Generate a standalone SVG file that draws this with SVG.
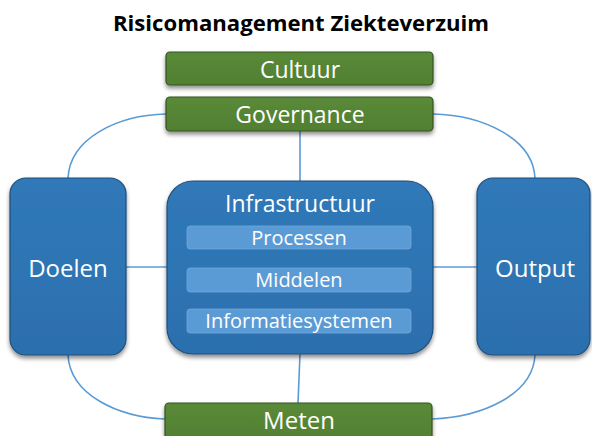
<svg xmlns="http://www.w3.org/2000/svg" width="592" height="436" viewBox="0 0 592 436">
<defs>
<filter id="sh" x="-20%" y="-20%" width="140%" height="150%">
<feDropShadow dx="0" dy="3" stdDeviation="2" flood-color="#000" flood-opacity="0.45"/>
</filter>
<linearGradient id="gb" x1="0" y1="0" x2="0" y2="1">
<stop offset="0" stop-color="#3079b9"/>
<stop offset="1" stop-color="#2c6fae"/>
</linearGradient>
<linearGradient id="gg" x1="0" y1="0" x2="0" y2="1">
<stop offset="0" stop-color="#5a8a38"/>
<stop offset="1" stop-color="#517f32"/>
</linearGradient>
</defs>
<style>
.t{font-family:"Open Sans","Liberation Sans",sans-serif;fill:#fff;text-anchor:middle}
.blue{fill:url(#gb);stroke:#1f4e79;stroke-width:1.2;filter:url(#sh)}
.green{fill:url(#gg);stroke:#35541f;stroke-width:1.2;filter:url(#sh)}
.bar{fill:#5b9bd5;stroke:#6fa8dc;stroke-width:0.8}
.c{fill:none;stroke:#5b9bd5;stroke-width:1.6}
</style>
<text x="301" y="31" font-family="'Open Sans','Liberation Sans',sans-serif" font-weight="bold" font-size="21" text-anchor="middle" fill="#000" textLength="376" lengthAdjust="spacingAndGlyphs">Risicomanagement Ziekteverzuim</text>
<g id="connectors">
<path class="c" d="M166,114 C118,115 70,138 68,178"/>
<path class="c" d="M433,114 C482,115 533,138 535,178"/>
<path class="c" d="M68,355 C70,395 118,417 165,419"/>
<path class="c" d="M535,355 C533,395 482,417 432,419"/>
<path class="c" d="M300,131 L300,181"/>
<path class="c" d="M300,354 L298,403"/>
<path class="c" d="M126,267 L167,267"/>
<path class="c" d="M433,267 L477,267"/>
</g>
<g id="cultuur">
<rect class="green" x="166" y="52" width="267" height="33" rx="4"/>
<text class="t" x="300" y="78" font-size="23">Cultuur</text>
</g>
<g id="governance">
<rect class="green" x="166" y="97" width="267" height="34" rx="4"/>
<text class="t" x="300" y="123" font-size="23">Governance</text>
</g>
<g id="meten">
<rect class="green" x="165" y="403" width="267" height="40" rx="4"/>
<text class="t" x="299" y="429" font-size="24">Meten</text>
</g>
<g id="doelen">
<rect class="blue" x="10" y="178" width="116" height="177" rx="16"/>
<text class="t" x="68" y="277" font-size="24">Doelen</text>
</g>
<g id="output">
<rect class="blue" x="477" y="178" width="113" height="177" rx="16"/>
<text class="t" x="535" y="277" font-size="24">Output</text>
</g>
<g id="infrastructuur">
<rect class="blue" x="167" y="181" width="266" height="173" rx="26"/>
<text class="t" x="300" y="212" font-size="23">Infrastructuur</text>
<g id="processen">
<rect class="bar" x="187" y="226" width="224" height="23" rx="3"/>
<text class="t" x="299" y="245" font-size="20">Processen</text>
</g>
<g id="middelen">
<rect class="bar" x="187" y="268" width="224" height="24" rx="3"/>
<text class="t" x="299" y="287" font-size="20">Middelen</text>
</g>
<g id="informatiesystemen">
<rect class="bar" x="187" y="309" width="224" height="24" rx="3"/>
<text class="t" x="299" y="328" font-size="20">Informatiesystemen</text>
</g>
</g>
</svg>
